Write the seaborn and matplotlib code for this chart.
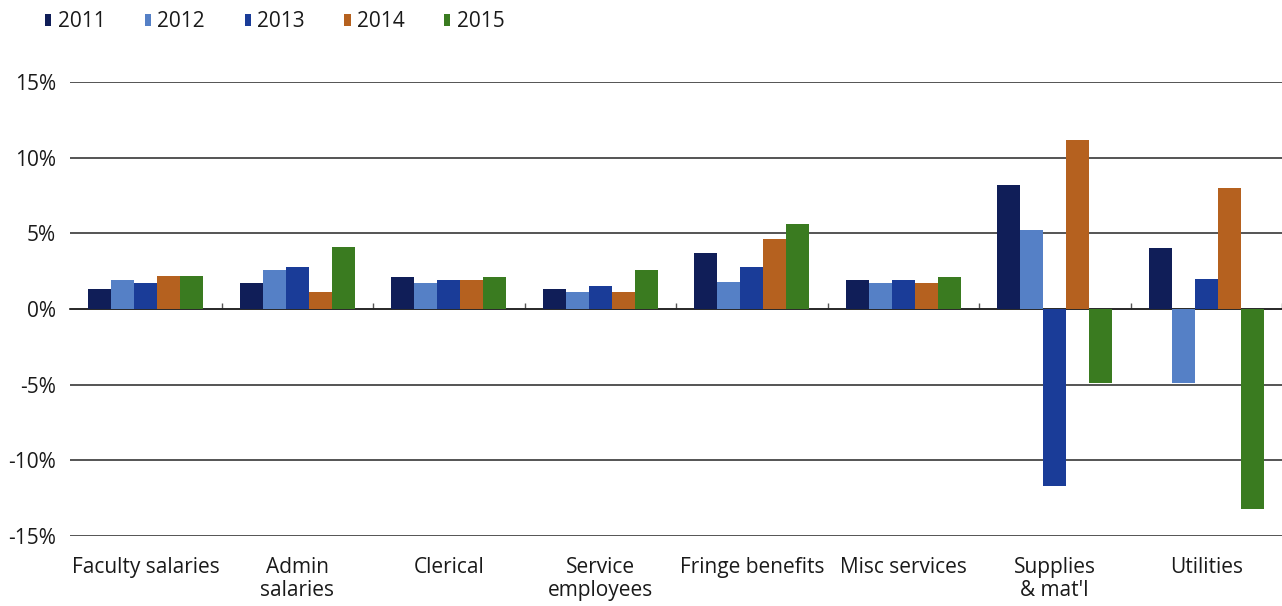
import matplotlib
matplotlib.use("Agg")
import matplotlib.pyplot as plt
import seaborn as sns
import pandas as pd
from matplotlib.patches import Patch
from matplotlib.ticker import FuncFormatter

categories = ["Faculty salaries", "Admin\nsalaries", "Clerical", "Service\nemployees",
              "Fringe benefits", "Misc services", "Supplies\n& mat'l", "Utilities"]
years = ["2011", "2012", "2013", "2014", "2015"]

v2011 = [1.3, 1.7, 2.1, 1.3, 3.7, 1.9, 8.2, 4.0]
v2012 = [1.9, 2.6, 1.7, 1.1, 1.8, 1.7, 5.2, -4.9]
v2013 = [1.7, 2.8, 1.9, 1.5, 2.8, 1.9, -11.7, 2.0]
v2014 = [2.2, 1.1, 1.9, 1.1, 4.6, 1.7, 11.2, 8.0]
v2015 = [2.2, 4.1, 2.1, 2.6, 5.6, 2.1, -4.9, -13.2]

colors = ["#101e58", "#5580c6", "#1a3c98", "#b5611f", "#3a7b20"]

series = [v2011, v2012, v2013, v2014, v2015]
df = pd.DataFrame({
    "category": [c for _ in years for c in categories],
    "year": [y for y in years for _ in categories],
    "value": [v for s in series for v in s],
})

sns.set_theme(style="white")
plt.rcParams["font.family"] = ["Open Sans", "DejaVu Sans"]

fig = plt.figure(figsize=(12.82, 6.06), dpi=100)
ax = fig.add_axes([70 / 1282, 1 - 536 / 606, 1 - 70 / 1282, (536 - 82) / 606])

sns.barplot(data=df, x="category", y="value", hue="year", order=categories,
            hue_order=years, palette=colors, saturation=1, width=0.76,
            edgecolor="none", linewidth=0, legend=False, ax=ax)

ax.set_ylim(-15, 15)
ax.set_xlim(-0.5, len(categories) - 0.5)
ax.set_yticks([-15, -10, -5, 0, 5, 10, 15])
ax.yaxis.set_major_formatter(FuncFormatter(lambda v, p: f"{int(v)}%"))
ax.grid(axis="y", color="#262626", linewidth=1.1)
ax.set_axisbelow(True)
for s in ax.spines.values():
    s.set_visible(False)
ax.set_xlabel("")
ax.set_ylabel("")
ax.tick_params(axis="y", length=0, pad=10, labelsize=15, labelcolor="#1a1a1a")
ax.tick_params(axis="x", length=0, pad=15, labelsize=15, labelcolor="#1a1a1a")
for lab in ax.get_xticklabels():
    lab.set_linespacing(1.15)

# zero line with small tick marks between category groups
sec = ax.secondary_xaxis(0.5)
sec.set_xticks([i + 0.5 for i in range(len(categories))])
sec.set_xticklabels([])
sec.tick_params(axis="x", direction="out", length=4, width=1, color="#555555")
sec.spines["bottom"].set_visible(False)

handles = [Patch(facecolor=c, edgecolor="none") for c in colors]
fig.legend(handles, years, loc="upper left", bbox_to_anchor=(0.0205, 1.012), ncol=5,
           frameon=False, fontsize=15, handlelength=0.3, handleheight=0.5,
           handletextpad=0.3, columnspacing=1.9, labelcolor="#1a1a1a")

fig.savefig("out.png", dpi=100)
